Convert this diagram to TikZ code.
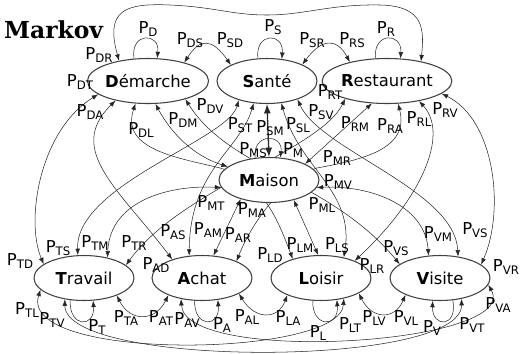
\documentclass[tikz,border=0pt]{standalone}
\usepackage{fontspec}
\setmainfont{DejaVu Sans}
\newfontfamily\titlefont{DejaVu Serif}
\usetikzlibrary{arrows.meta, shapes.geometric, backgrounds}

\newcommand\pp[1]{P\raisebox{-2.5pt}{\fontsize{10}{10}\selectfont #1}}

\tikzset{
  state/.style={ellipse, draw=black!75, line width=0.9pt, fill=white,
    minimum width=3cm, minimum height=1.35cm, inner sep=0pt,
    font=\fontsize{14}{14}\selectfont},
  prob/.style={inner sep=0pt, font=\fontsize{14}{14}\selectfont},
  edge/.style={<->, black!85, line width=0.45pt},
  selfarc/.style={->, black!85, line width=0.45pt}
}

\begin{document}
\begin{tikzpicture}[x=0.03cm, y=-0.03cm, >={Latex[length=5.5pt,width=4pt]}]
    \useasboundingbox (0,0) rectangle (524,353);

    \node[anchor=west, font=\titlefont\bfseries\fontsize{20}{20}\selectfont] (title) at (0,30) {Markov};

    % states
    \node[state] (D) at (148,81) {\textbf{D}émarche};
    \node[state] (S) at (267,81) {\textbf{S}anté};
    \node[state] (R) at (387,81) {\textbf{R}estaurant};
    \node[state] (M) at (269,180) {\textbf{M}aison};
    \node[state] (T) at (84,278) {\textbf{T}ravail};
    \node[state] (A) at (202,278) {\textbf{A}chat};
    \node[state] (L) at (321,278) {\textbf{L}oisir};
    \node[state] (V) at (440,278) {\textbf{V}isite};

    \begin{scope}[on background layer]
    % top row
    \draw[edge] (D.27) .. controls (200,38) and (212,38) .. (S.156);
    \draw[edge] (S.25) .. controls (322,38) and (337,38) .. (R.153);
    \draw[edge] (D.145) .. controls (105,10) and (125,3) .. (170,5)
        .. controls (215,7) and (232,15) .. (267,15)
        .. controls (305,15) and (330,4) .. (380,5)
        .. controls (425,6) and (424,30) .. (R.30);
    \draw[edge] (D.195) .. controls (40,130) and (25,220) .. (T.161);
    \draw[edge] (R.347) .. controls (495,120) and (505,210) .. (V.18);

    % crossing the middle
    \draw[edge] (D.211) .. controls (65,150) and (120,190) .. (A.148);
    \draw[edge] (D.241) .. controls (120,150) and (180,158) .. (220,168)
        .. controls (262,180) and (278,220) .. (L.146);
    \draw[edge] (D.288) .. controls (175,140) and (200,158) .. (M.162);
    \draw[edge] (D.334) .. controls (230,170) and (330,180) .. (V.161);
    \draw[edge] (S.214) .. controls (228,140) and (75,185) .. (T.105);
    \draw[edge] (S.239) .. controls (240,150) and (190,170) .. (A.120);
    \draw[edge, line width=1.1pt, >={Latex[length=8pt,width=6pt]}] (S.south) -- (M.north);
    \draw[edge] (S.303) .. controls (300,170) and (355,190) .. (L.42);
    \draw[edge] (S.329) .. controls (320,150) and (455,190) .. (V.50);
    \draw[edge] (R.203) .. controls (320,150) and (180,190) .. (T.17);
    \draw[edge] (R.236) -- (M.24);
    \draw[edge] (R.296) .. controls (410,150) and (360,160) .. (317,168)
        .. controls (290,175) and (255,215) .. (A.26);
    \draw[edge] (R.328) .. controls (450,135) and (420,200) .. (L.27);
    \draw[edge] (M.189) .. controls (170,185) and (110,200) .. (T.41);
    \draw[edge] (M.214) -- (A.63);
    \draw[edge] (M.321) -- (L.97);
    \draw[edge] (M.351) .. controls (370,185) and (425,205) .. (V.117);

    % bottom row
    \draw[edge] (T.332) .. controls (130,322) and (155,322) .. (A.207);
    \draw[edge] (A.337) .. controls (255,320) and (278,320) .. (L.207);
    \draw[edge] (L.338) .. controls (372,320) and (395,320) .. (V.206);
    \draw[edge] (T.195) .. controls (18,362) and (340,358) .. (L.318);
    \draw[edge] (T.228) .. controls (65,368) and (462,368) .. (V.316);
    \draw[edge] (A.225) .. controls (185,365) and (522,345) .. (V.352);

    % self loops
    \draw[selfarc] (D.122) .. controls (130,32) and (160,32) .. (D.68);
    \draw[selfarc] (S.112) .. controls (255,32) and (284,32) .. (S.56);
    \draw[selfarc] (R.117) .. controls (373,32) and (402,32) .. (R.59);
    \draw[selfarc] (M.122) .. controls (252,133) and (283,133) .. (M.63);
    \draw[selfarc] (T.238) .. controls (69,328) and (95,328) .. (T.292);
    \draw[selfarc] (A.252) .. controls (194,328) and (220,328) .. (A.306);
    \draw[selfarc] (L.250) .. controls (312,328) and (339,328) .. (L.306);
    \draw[selfarc] (V.300) .. controls (458,328) and (432,328) .. (V.252);
    \end{scope}

    % probabilities
    \node[prob] (pD) at (148,29) {\pp{D}};
    \node[prob] (pS) at (273,27) {\pp{S}};
    \node[prob] (pR) at (386,29) {\pp{R}};
    \node[prob] (pM) at (293,150) {\pp{M}};
    \node[prob] (pT) at (97,327) {\pp{T}};
    \node[prob] (pA) at (222,325) {\pp{A}};
    \node[prob] (pL) at (318,333) {\pp{L}};
    \node[prob] (pV) at (432,328) {\pp{V}};

    \node[prob] (pDR) at (99,55) {\pp{DR}};
    \node[prob] (pDS) at (190,40) {\pp{DS}};
    \node[prob] (pSD) at (230,40) {\pp{SD}};
    \node[prob] (pSR) at (312,40) {\pp{SR}};
    \node[prob] (pRS) at (352,40) {\pp{RS}};
    \node[prob] (pDT) at (80,82) {\pp{DT}};
    \node[prob] (pDA) at (90,112) {\pp{DA}};
    \node[prob] (pDL) at (141,130) {\pp{DL}};
    \node[prob] (pDM) at (183,120) {\pp{DM}};
    \node[prob] (pDV) at (210,106) {\pp{DV}};
    \node[prob] (pST) at (240,125) {\pp{ST}};
    \node[prob] (pSM) at (270,128) {\pp{SM}};
    \node[prob] (pSL) at (298,125) {\pp{SL}};
    \node[prob] (pSV) at (321,112) {\pp{SV}};
    \node[prob] (pRT) at (330,92) {\pp{RT}};
    \node[prob] (pRM) at (355,124) {\pp{RM}};
    \node[prob] (pRA) at (390,126) {\pp{RA}};
    \node[prob] (pRL) at (419,119) {\pp{RL}};
    \node[prob] (pRV) at (445,110) {\pp{RV}};
    \node[prob] (pMS) at (253,150) {\pp{MS}};
    \node[prob] (pMR) at (337,158) {\pp{MR}};
    \node[prob] (pMV) at (338,182) {\pp{MV}};
    \node[prob] (pMT) at (211,203) {\pp{MT}};
    \node[prob] (pMA) at (252,210) {\pp{MA}};
    \node[prob] (pML) at (322,205) {\pp{ML}};
    \node[prob] (pAS) at (173,232) {\pp{AS}};
    \node[prob] (pAM) at (208,230) {\pp{AM}};
    \node[prob] (pAR) at (238,235) {\pp{AR}};
    \node[prob] (pLD) at (270,255) {\pp{LD}};
    \node[prob] (pLM) at (300,245) {\pp{LM}};
    \node[prob] (pLS) at (337,245) {\pp{LS}};
    \node[prob] (pVSb) at (396,248) {\pp{VS}};
    \node[prob] (pVM) at (438,234) {\pp{VM}};
    \node[prob] (pVS) at (475,230) {\pp{VS}};
    \node[prob] (pVR) at (506,267) {\pp{VR}};
    \node[prob] (pTD) at (20,261) {\pp{TD}};
    \node[prob] (pTS) at (58,248) {\pp{TS}};
    \node[prob] (pTM) at (95,243) {\pp{TM}};
    \node[prob] (pTR) at (134,243) {\pp{TR}};
    \node[prob] (pAD) at (156,265) {\pp{AD}};
    \node[prob] (pLR) at (372,266) {\pp{LR}};
    \node[prob] (pTL) at (27,310) {\pp{TL}};
    \node[prob] (pTV) at (52,320) {\pp{TV}};
    \node[prob] (pTA) at (126,318) {\pp{TA}};
    \node[prob] (pAT) at (161,318) {\pp{AT}};
    \node[prob] (pAV) at (187,320) {\pp{AV}};
    \node[prob] (pAL) at (247,317) {\pp{AL}};
    \node[prob] (pLA) at (288,318) {\pp{LA}};
    \node[prob] (pLT) at (350,325) {\pp{LT}};
    \node[prob] (pLV) at (374,318) {\pp{LV}};
    \node[prob] (pVL) at (406,318) {\pp{VL}};
    \node[prob] (pVT) at (472,325) {\pp{VT}};
    \node[prob] (pVA) at (498,305) {\pp{VA}};
\end{tikzpicture}
\end{document}
